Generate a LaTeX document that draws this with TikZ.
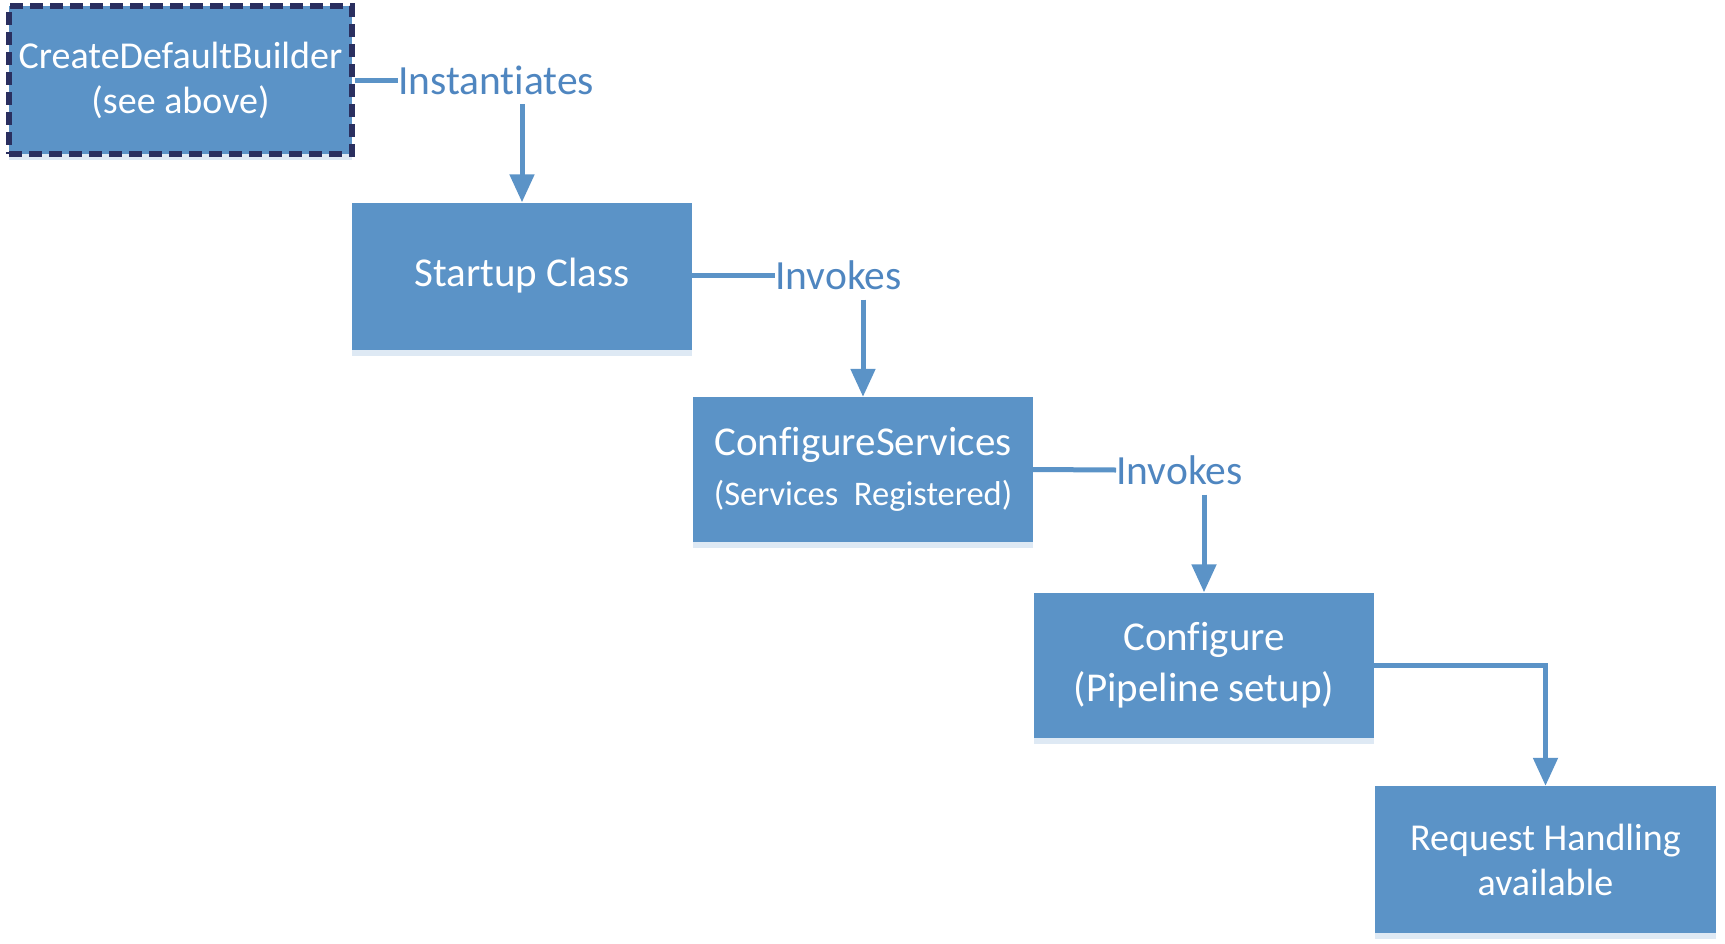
\documentclass[tikz,border=0pt]{standalone}
\usepackage{fontspec}
\setmainfont{Carlito}[Ligatures=NoCommon]
\usetikzlibrary{arrows.meta,shadows}
\definecolor{boxblue}{HTML}{5B93C7}
\definecolor{lblblue}{HTML}{4F86C0}
\definecolor{navy}{HTML}{2A2F5F}
\definecolor{shadowblue}{HTML}{D6E3F1}
\tikzset{
  box/.style={rectangle, fill=boxblue, text=white, align=center, inner sep=0pt,
    font=\fontsize{41}{50}\selectfont,
    drop shadow={shadow xshift=0pt, shadow yshift=-6pt, fill=shadowblue, opacity=0.8}},
  dashbox/.style={box, draw=navy, line width=6pt, dash pattern=on 13pt off 7pt},
  lbl/.style={inner sep=0pt, text=lblblue, anchor=west, text depth=0pt,
    font=\fontsize{41.5}{48}\selectfont},
  link/.style={draw=boxblue, line width=5pt},
  arr/.style={draw=boxblue, line width=5pt, -{Triangle[width=24pt,length=28pt]}},
}
\begin{document}
\begin{tikzpicture}[x=1pt,y=-1pt]
\useasboundingbox (0,0) rectangle (1725,943);
\node[dashbox, minimum width=343pt, minimum height=148pt, font=\fontsize{38}{45}\selectfont] (b1) at (180.5,80) {CreateDefaultBuilder\\(see above)};
\node[box, minimum width=340pt, minimum height=147pt] (b2) at (522,276) {Startup Class};
\node[box, minimum width=340pt, minimum height=145pt] (b3) at (863,469.5) {\fontsize{41}{52}\selectfont ConfigureServices\\\fontsize{34.5}{40}\selectfont(Services\ \ Registered)};
\node[box, minimum width=340pt, minimum height=145pt, font=\fontsize{41}{51}\selectfont] (b4) at (1204,665) {Configure\\(Pipeline setup)};
\node[box, minimum width=341pt, minimum height=147pt, font=\fontsize{38}{45}\selectfont] (b5) at (1545.5,859.5) {Request Handling\\available};
\node[lbl] (l1) at (398,80) {Instantiates};
\node[lbl] (l2) at (775,275) {Invokes};
\node[lbl] (l3) at (1116,470) {Invokes};
\draw[link] (b1.east) -- (l1.west);
\draw[link] (b2.east |- l2.west) -- (l2.west);
\draw[link] (b3.east) -- (l3.west);
\draw[arr] ([yshift=-10pt]l1.south -| b2.north) -- (b2.north);
\draw[arr] ([yshift=-10pt]l2.south -| b3.north) -- (b3.north);
\draw[arr] ([yshift=-10pt]l3.south -| b4.north) -- (b4.north);
\draw[arr] (b4.east) -| (b5.north);
\end{tikzpicture}
\end{document}
